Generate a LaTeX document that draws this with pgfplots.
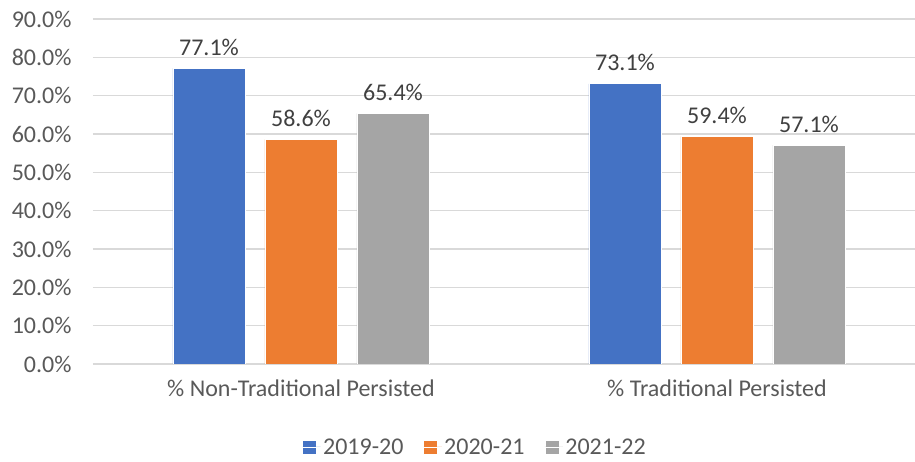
\documentclass[border=0pt]{standalone}
\usepackage{fontspec}
\setmainfont{Carlito}
\usepackage{pgfplots}
\pgfplotsset{compat=1.18}
\definecolor{cblue}{HTML}{4472C4}
\definecolor{corange}{HTML}{ED7D31}
\definecolor{cgray}{HTML}{A5A5A5}
\definecolor{gridc}{HTML}{D9D9D9}
\definecolor{tickc}{HTML}{595959}
\definecolor{labc}{HTML}{404040}

\begin{document}
\begin{tikzpicture}
\path[use as bounding box] (-93pt,-98pt) rectangle (822pt,364pt);
\begin{axis}[
    at={(0,0)}, anchor=south west,
    scale only axis,
    width=822pt, height=345pt,
    xmin=-0.5, xmax=1.476,
    ymin=0, ymax=90,
    ytick={0,10,...,90},
    xtick={0,1},
    xticklabels={\% Non-Traditional Persisted, \% Traditional Persisted},
    axis line style={draw=none},
    tick style={draw=none},
    ymajorgrids,
    grid style={gridc, line width=1.3pt},
    extra y ticks={0},
    extra y tick labels={},
    extra y tick style={grid style={gridc, line width=1.6pt}},
    yticklabel={\pgfmathprintnumber[fixed,fixed zerofill,precision=1]{\tick}\%},
    /pgf/number format/assume math mode=true,
    ticklabel style={font=\fontsize{24}{27}\selectfont, text=tickc},
    yticklabel style={xshift=-18pt},
    xticklabel style={yshift=-8pt},
    ybar, bar width=72pt,
    nodes near coords={\pgfmathprintnumber[fixed,fixed zerofill,precision=1]{\pgfplotspointmeta}\%},
    every node near coord/.append style={font=\fontsize{24}{27}\selectfont, text=labc, anchor=south, yshift=9pt},
    legend columns=3,
    legend style={at={(0,0)}, anchor=center, xshift=382pt, yshift=-83pt, draw=none,
        font=\fontsize{24}{27}\selectfont, text=tickc,
        /tikz/every even column/.append style={column sep=18pt}},
    legend image code/.code={\fill[#1] (0pt,-7pt) rectangle (14pt,7pt); \path (0pt,0pt) -- (18pt,0pt);},
]
\addplot[fill=cblue, draw=white, line width=0.8pt, bar shift=-92pt] coordinates {(0,77.1) (1,73.1)};
\addlegendentry{2019-20}
\addplot[fill=corange, draw=white, line width=0.8pt, bar shift=0pt] coordinates {(0,58.6) (1,59.4)};
\addlegendentry{2020-21}
\addplot[fill=cgray, draw=white, line width=0.8pt, bar shift=92pt] coordinates {(0,65.4) (1,57.1)};
\addlegendentry{2021-22}
\end{axis}
\end{tikzpicture}
\end{document}
